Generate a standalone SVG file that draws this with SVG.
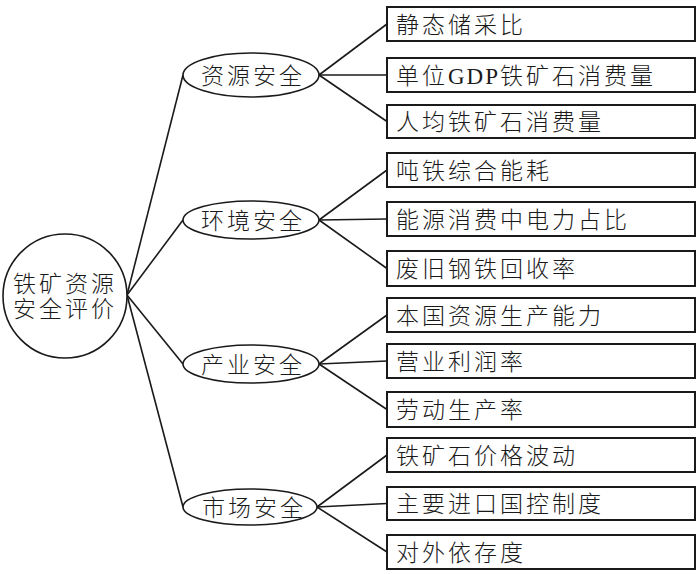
<svg xmlns="http://www.w3.org/2000/svg" width="700" height="574" viewBox="0 0 700 574">
<style>
.t{font-family:"Liberation Serif","Noto Sans CJK SC",serif;font-size:23px;font-weight:300;letter-spacing:3px;fill:#1a1a1a}
.l{letter-spacing:2px;font-weight:400}
.b{fill:#fff;stroke:#1a1a1a;stroke-width:2}
.e{fill:#fff;stroke:#1a1a1a;stroke-width:1.6}
.c{stroke:#1a1a1a;stroke-width:1.6;fill:none}
</style>
<rect width="700" height="574" fill="#fff"/>
<g id="connectors" class="c">
<line x1="127" y1="295" x2="183" y2="75"/>
<line x1="127" y1="295" x2="183" y2="220"/>
<line x1="127" y1="295" x2="183" y2="364"/>
<line x1="127" y1="295" x2="183" y2="507"/>
<line x1="319" y1="75" x2="387" y2="24"/>
<line x1="319" y1="75" x2="387" y2="75"/>
<line x1="319" y1="75" x2="387" y2="121.5"/>
<line x1="319" y1="220" x2="387" y2="170"/>
<line x1="319" y1="220" x2="387" y2="219"/>
<line x1="319" y1="220" x2="387" y2="268.5"/>
<line x1="319" y1="364" x2="387" y2="315"/>
<line x1="319" y1="364" x2="387" y2="361"/>
<line x1="319" y1="364" x2="387" y2="409.5"/>
<line x1="317" y1="507" x2="387" y2="455"/>
<line x1="317" y1="507" x2="387" y2="503.5"/>
<line x1="317" y1="507" x2="387" y2="552"/>
</g>
<g id="root">
<circle class="e" cx="65" cy="296" r="62"/>
<text class="t" x="13" y="292">铁矿资源</text>
<text class="t" x="13" y="317">安全评价</text>
</g>
<g id="n1"><ellipse class="e" cx="251" cy="75" rx="68" ry="22"/><text class="t" x="201" y="84">资源安全</text></g>
<g id="n2"><ellipse class="e" cx="251" cy="220" rx="68" ry="19"/><text class="t" x="201" y="229">环境安全</text></g>
<g id="n3"><ellipse class="e" cx="251" cy="364" rx="68" ry="19"/><text class="t" x="201" y="373">产业安全</text></g>
<g id="n4"><ellipse class="e" cx="250" cy="507" rx="67" ry="18"/><text class="t" x="202" y="516">市场安全</text></g>
<g id="b1"><rect class="b" x="387" y="7" width="308" height="34"/><text class="t" x="396" y="33">静态储采比</text></g>
<g id="b2"><rect class="b" x="387" y="58" width="308" height="34"/><text class="t" x="396" y="84">单位<tspan class="l">GDP</tspan>铁矿石消费量</text></g>
<g id="b3"><rect class="b" x="387" y="105" width="308" height="33"/><text class="t" x="396" y="130">人均铁矿石消费量</text></g>
<g id="b4"><rect class="b" x="387" y="153" width="308" height="34"/><text class="t" x="396" y="179">吨铁综合能耗</text></g>
<g id="b5"><rect class="b" x="387" y="202" width="308" height="34"/><text class="t" x="396" y="228">能源消费中电力占比</text></g>
<g id="b6"><rect class="b" x="387" y="251" width="308" height="35"/><text class="t" x="396" y="277">废旧钢铁回收率</text></g>
<g id="b7"><rect class="b" x="387" y="298" width="308" height="34"/><text class="t" x="396" y="324">本国资源生产能力</text></g>
<g id="b8"><rect class="b" x="387" y="344" width="308" height="34"/><text class="t" x="396" y="370">营业利润率</text></g>
<g id="b9"><rect class="b" x="387" y="392" width="308" height="35"/><text class="t" x="396" y="418">劳动生产率</text></g>
<g id="b10"><rect class="b" x="387" y="438" width="308" height="34"/><text class="t" x="396" y="464">铁矿石价格波动</text></g>
<g id="b11"><rect class="b" x="387" y="487" width="308" height="33"/><text class="t" x="396" y="512">主要进口国控制度</text></g>
<g id="b12"><rect class="b" x="387" y="535" width="308" height="34"/><text class="t" x="396" y="561">对外依存度</text></g>
</svg>
